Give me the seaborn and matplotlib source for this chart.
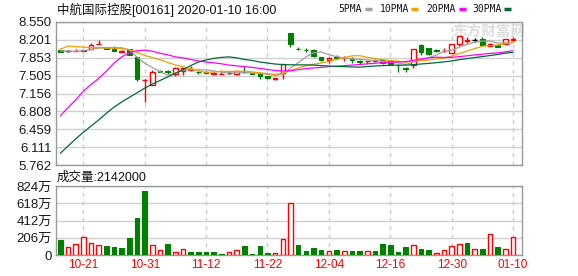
import numpy as np
import matplotlib
matplotlib.use("Agg")
import matplotlib.pyplot as plt
import seaborn as sns
from matplotlib.lines import Line2D

# ---------------- data ----------------
dates = ["10-16", "10-17", "10-18", "10-21", "10-22", "10-23", "10-24", "10-25", "10-28", "10-29",
         "10-30", "10-31", "11-01", "11-04", "11-05", "11-06", "11-07", "11-08", "11-11", "11-12",
         "11-13", "11-14", "11-15", "11-18", "11-19", "11-20", "11-21", "11-22", "11-25", "11-26",
         "11-27", "11-28", "11-29", "12-02", "12-03", "12-04", "12-05", "12-06", "12-09", "12-10",
         "12-11", "12-12", "12-13", "12-16", "12-17", "12-18", "12-19", "12-20", "12-23", "12-24",
         "12-27", "12-30", "12-31", "01-02", "01-03", "01-06", "01-07", "01-08", "01-09", "01-10"]

opens = [8.01, 7.98, 7.98, 7.99, 8.02, 8.12, 8.05, 8.02, 7.97, 8.02,
         7.87, 7.41, 7.32, 7.60, 7.60, 7.54, 7.60, 7.62, 7.58, 7.57,
         7.54, 7.53, 7.55, 7.53, 7.60, 7.55, 7.53, 7.49, 7.44, 7.56,
         8.33, 8.03, 8.01, 8.00, 7.87, 7.81, 7.86, 7.84, 7.83, 7.78,
         7.78, 7.80, 7.80, 7.78, 7.72, 7.65, 7.71, 8.10, 8.04, 8.00,
         7.98, 7.95, 8.12, 8.18, 8.20, 8.22, 8.08, 8.11, 8.13, 8.20]
highs = [8.03, 8.00, 8.03, 8.01, 8.14, 8.19, 8.06, 8.09, 8.00, 8.02,
         7.87, 7.44, 7.62, 7.61, 7.61, 7.68, 7.67, 7.69, 7.59, 7.60,
         7.57, 7.62, 7.57, 7.60, 7.69, 7.56, 7.53, 7.50, 7.46, 7.73,
         8.33, 8.06, 8.04, 8.03, 7.87, 7.86, 7.90, 7.88, 7.86, 7.80,
         7.79, 7.83, 7.82, 7.80, 7.72, 7.68, 8.02, 8.13, 8.04, 8.03,
         8.04, 8.12, 8.28, 8.26, 8.24, 8.25, 8.14, 8.13, 8.21, 8.25]
lows = [7.96, 7.96, 7.98, 7.98, 8.02, 8.12, 8.02, 7.99, 7.97, 7.91,
        7.40, 7.00, 7.32, 7.57, 7.54, 7.50, 7.52, 7.60, 7.54, 7.54,
        7.53, 7.53, 7.53, 7.51, 7.55, 7.53, 7.43, 7.43, 7.42, 7.43,
        8.07, 8.00, 7.96, 7.87, 7.78, 7.75, 7.82, 7.79, 7.76, 7.74,
        7.73, 7.77, 7.74, 7.72, 7.57, 7.58, 7.66, 7.91, 7.91, 7.97,
        7.96, 7.95, 8.08, 8.15, 8.16, 8.10, 8.08, 8.06, 8.12, 8.17]
closes = [7.97, 7.98, 7.99, 8.00, 8.11, 8.13, 8.03, 7.99, 7.98, 7.91,
          7.43, 7.42, 7.57, 7.58, 7.57, 7.65, 7.66, 7.64, 7.57, 7.56,
          7.55, 7.54, 7.55, 7.59, 7.57, 7.54, 7.50, 7.45, 7.46, 7.73,
          8.12, 8.02, 8.00, 7.88, 7.81, 7.85, 7.84, 7.85, 7.80, 7.77,
          7.79, 7.78, 7.76, 7.73, 7.71, 7.63, 8.02, 7.97, 7.93, 7.98,
          7.99, 8.12, 8.28, 8.19, 8.20, 8.10, 8.13, 8.07, 8.21, 8.22]

ma5 = [7.99, 7.98, 7.98, 7.99, 8.010, 8.042, 8.052, 8.052, 8.048, 8.008,
       7.868, 7.746, 7.662, 7.582, 7.514, 7.558, 7.606, 7.620, 7.618, 7.616,
       7.596, 7.572, 7.554, 7.558, 7.560, 7.558, 7.550, 7.530, 7.504, 7.536,
       7.652, 7.756, 7.866, 7.950, 7.966, 7.912, 7.876, 7.846, 7.830, 7.822,
       7.810, 7.798, 7.780, 7.766, 7.754, 7.722, 7.770, 7.812, 7.852, 7.906,
       7.978, 7.998, 8.060, 8.112, 8.156, 8.178, 8.180, 8.138, 8.142, 8.146]
ma10 = [8.02, 8.08, 8.07, 8.06, 8.05, 8.05, 8.04, 8.04, 8.03, 8.009,
        7.955, 7.899, 7.857, 7.815, 7.761, 7.713, 7.676, 7.641, 7.600, 7.565,
        7.577, 7.589, 7.587, 7.588, 7.588, 7.577, 7.561, 7.542, 7.531, 7.548,
        7.605, 7.653, 7.698, 7.727, 7.751, 7.782, 7.816, 7.856, 7.890, 7.894,
        7.861, 7.837, 7.813, 7.798, 7.788, 7.766, 7.784, 7.796, 7.809, 7.830,
        7.850, 7.884, 7.936, 7.982, 8.031, 8.078, 8.089, 8.099, 8.127, 8.151]
ma20 = [6.72, 6.88, 7.03, 7.20, 7.33, 7.45, 7.59, 7.75, 7.87, 7.95,
        7.99, 8.00, 7.98, 7.94, 7.91, 7.87, 7.85, 7.82, 7.79, 7.77,
        7.755, 7.735, 7.71, 7.695, 7.68, 7.665, 7.645, 7.625, 7.605, 7.595,
        7.60, 7.62, 7.64, 7.655, 7.665, 7.679, 7.688, 7.698, 7.71, 7.721,
        7.734, 7.746, 7.757, 7.765, 7.772, 7.777, 7.803, 7.829, 7.852, 7.864,
        7.857, 7.862, 7.875, 7.89, 7.91, 7.922, 7.937, 7.948, 7.968, 7.99]
ma30 = [5.99, 6.13, 6.27, 6.40, 6.52, 6.64, 6.77, 6.89, 6.99, 7.08,
        7.17, 7.26, 7.34, 7.41, 7.48, 7.55, 7.62, 7.70, 7.77, 7.81,
        7.84, 7.86, 7.87, 7.85, 7.82, 7.80, 7.77, 7.75, 7.73, 7.72,
        7.715, 7.714, 7.714, 7.71, 7.70, 7.691, 7.684, 7.68, 7.674, 7.669,
        7.681, 7.693, 7.699, 7.704, 7.709, 7.708, 7.72, 7.731, 7.743, 7.757,
        7.772, 7.791, 7.816, 7.836, 7.857, 7.875, 7.896, 7.917, 7.942, 7.958]

volume_wan = [178, 91, 127, 210, 139, 115, 107, 95, 83, 202,
              440, 760, 115, 55, 131, 32, 67, 36, 36, 36,
              36, 12, 32, 55, 107, 12, 107, 24, 24, 186,
              626, 119, 48, 83, 59, 44, 59, 44, 48, 48,
              44, 48, 131, 119, 36, 95, 115, 71, 59, 20,
              55, 103, 127, 143, 67, 71, 250, 95, 67, 214.2]

price_ticks = [5.762, 6.111, 6.459, 6.808, 7.156, 7.505, 7.853, 8.201, 8.550]
vol_ticks = [0, 206, 412, 618, 824]
vol_tick_labels = ["0", "206万", "412万", "618万", "824万"]
date_tick_labels = ["10-21", "10-31", "11-12", "11-22", "12-04", "12-16", "12-30", "01-10"]
ma_names = ["5PMA", "10PMA", "20PMA", "30PMA"]
title_text = "中航国际控股[00161] 2020-01-10 16:00"
volume_text = "成交量:2142000"
watermark = "东方财富网"

# ---------------- style ----------------
sns.set_style("white")
plt.rcParams["font.family"] = ["Liberation Sans", "Noto Sans CJK SC", "DejaVu Sans"]

RED = "#ff0000"
GREEN = "#008000"
MA_COLORS = ["#a0a0a0", "#f0a000", "#ff00ff", "#006a3a"]
GRID = "#d0d0d0"
SPINE = "#999999"

W, H = 578, 276
fig = plt.figure(figsize=(W / 100, H / 100), dpi=100)
fig.patch.set_facecolor("white")


def fx(px):
    return px / W


def fy(py):
    return 1 - py / H


ax1 = fig.add_axes([fx(56), fy(165), fx(522) - fx(56), fy(22) - fy(165)])
ax2 = fig.add_axes([fx(56), fy(255), fx(522) - fx(56), fy(186) - fy(255)])

x = np.arange(len(dates))
o = np.array(opens)
h = np.array(highs)
lo = np.array(lows)
c = np.array(closes)
tick_idx = [dates.index(d) for d in date_tick_labels]

# ---------------- price panel ----------------
up = c > o
down = c < o
flat = c == o
wick_col = np.where(up, RED, np.where(down, GREEN, "#000000"))
ax1.vlines(x, lo, h, colors=wick_col, lw=1.0, zorder=3)
body_h = np.maximum(np.abs(c - o), 0.004)
body_b = np.minimum(o, c)
ax1.bar(x[up], body_h[up], bottom=body_b[up], width=0.6, facecolor="white",
        edgecolor=RED, lw=1.0, zorder=4)
ax1.bar(x[down], body_h[down], bottom=body_b[down], width=0.6, facecolor=GREEN,
        edgecolor=GREEN, lw=0.8, zorder=4)
ax1.hlines(c[flat], x[flat] - 0.33, x[flat] + 0.33, colors="#000000", lw=1.0, zorder=4)

for ma, col in zip([ma5, ma10, ma20, ma30], MA_COLORS):
    sns.lineplot(x=x, y=ma, color=col, lw=0.9, ax=ax1, zorder=5)

ax1.set_xlim(-0.56, 60.17)
ax1.set_ylim(price_ticks[0], price_ticks[-1])
ax1.set_yticks(price_ticks)
ax1.set_yticklabels([f"{t:.3f}" for t in price_ticks])
ax1.set_xticks(tick_idx)
ax1.set_xticklabels([])
ax1.yaxis.grid(True, color=GRID, lw=1.0, zorder=0)
ax1.xaxis.grid(True, color="#cccccc", lw=1.0, ls=(0, (3, 3)), zorder=0)
ax1.set_axisbelow(True)
ax1.tick_params(axis="both", length=0, pad=3, labelsize=9.5, labelcolor="#1a1a1a")
ax1.set_xlabel("")
ax1.set_ylabel("")

ax1.text(fx(452), fy(32), watermark, transform=fig.transFigure, fontsize=10.5,
         fontweight="bold", color="#dedede", va="center", ha="left", zorder=1,
         family=["Noto Sans CJK SC"])

# ---------------- volume panel ----------------
vol_up = np.array([False] + [closes[i] > closes[i - 1] for i in range(1, len(closes))])
vol = np.array(volume_wan)
ax2.bar(x[vol_up], vol[vol_up], width=0.6, facecolor="white", edgecolor=RED, lw=1.0, zorder=3)
ax2.bar(x[~vol_up], vol[~vol_up], width=0.6, facecolor=GREEN, edgecolor=GREEN, lw=0.8, zorder=3)
ax2.set_xlim(-0.56, 60.17)
ax2.set_ylim(vol_ticks[0], vol_ticks[-1])
ax2.set_yticks(vol_ticks)
ax2.set_yticklabels(vol_tick_labels)
ax2.set_xticks(tick_idx)
ax2.set_xticklabels(date_tick_labels)
ax2.yaxis.grid(True, color=GRID, lw=1.0, zorder=0)
ax2.xaxis.grid(True, color="#cccccc", lw=1.0, ls=(0, (3, 3)), zorder=0)
ax2.set_axisbelow(True)
ax2.tick_params(axis="y", length=0, pad=3, labelsize=9.5, labelcolor="#1a1a1a")
ax2.tick_params(axis="x", length=0, pad=3, labelsize=8.5, labelcolor=RED)

for ax in (ax1, ax2):
    for s in ax.spines.values():
        s.set_color(SPINE)
        s.set_linewidth(1.0)

# ---------------- header texts ----------------
fig.text(fx(57), fy(9.5), title_text, fontsize=9, color="#111111", va="center", ha="left")
fig.text(fx(57), fy(177.5), volume_text, fontsize=9, color="#111111", va="center", ha="left")

leg_text_x = [338, 380, 426, 472]
leg_dash_x = [(365, 372), (411, 418), (459, 466), (504, 511)]
for name, tx, (d0, d1), col in zip(ma_names, leg_text_x, leg_dash_x, MA_COLORS):
    fig.text(fx(tx), fy(9), name, fontsize=7, family=["DejaVu Sans Mono"], color="#111111",
             va="center", ha="left")
    fig.add_artist(Line2D([fx(d0), fx(d1)], [fy(9), fy(9)], transform=fig.transFigure,
                          color=col, lw=2.5, solid_capstyle="butt"))

fig.savefig("out.png", dpi=100, facecolor="white")
